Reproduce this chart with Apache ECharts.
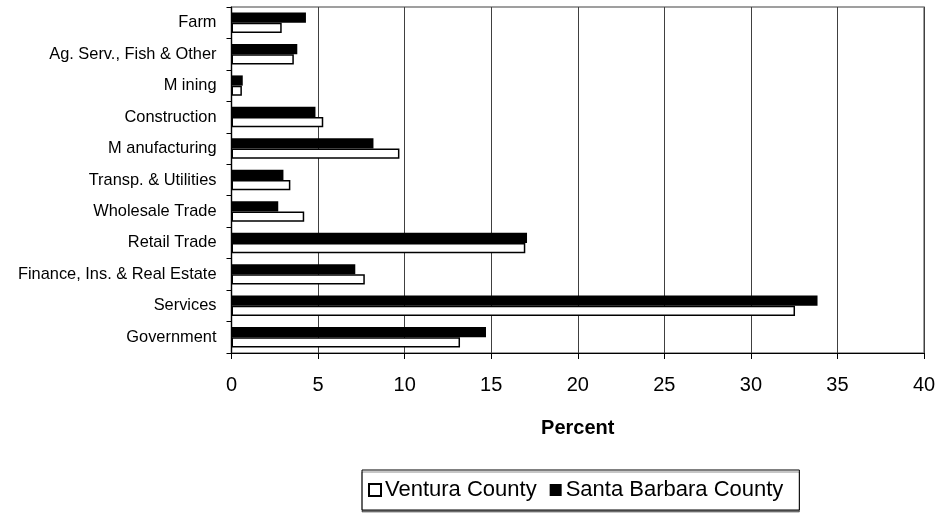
<!DOCTYPE html>
<html>
<head>
<meta charset="utf-8">
<script src="https://cdn.jsdelivr.net/npm/echarts@6/dist/echarts.min.js"></script>
<style>
  html, body { margin: 0; padding: 0; background: #fff; }
  #chart { width: 948px; height: 514px; }
</style>
</head>
<body>
<div id="chart"></div>
<script>
// Employment share by industry, two counties
const categories = [
  'Farm', 'Ag. Serv., Fish & Other', 'M ining', 'Construction', 'M anufacturing',
  'Transp. & Utilities', 'Wholesale Trade', 'Retail Trade',
  'Finance, Ins. & Real Estate', 'Services', 'Government'
];
const ventura = [2.9, 3.6, 0.6, 5.3, 9.7, 3.4, 4.2, 16.97, 7.7, 32.55, 13.2];
const santaBarbara = [4.3, 3.8, 0.65, 4.85, 8.2, 3.0, 2.7, 17.07, 7.15, 33.85, 14.7];
const xTicks = { min: 0, max: 40, interval: 5 };

const chart = echarts.init(document.getElementById('chart'), null, { renderer: 'canvas' });
const font = 'Liberation Sans, Arial, sans-serif';

chart.setOption({
  animation: false,
  backgroundColor: '#fff',
  grid: {
    left: 231.5, right: 24, top: 7, bottom: 161,
    show: true, borderColor: '#808080', borderWidth: 1.5, backgroundColor: 'transparent'
  },
  legend: {
    data: ['Ventura County', 'Santa Barbara County'],
    icon: 'rect',
    left: 362, top: 470,
    itemWidth: 12, itemHeight: 12, itemGap: 13,
    padding: [9, 16, 9, 6],
    borderColor: '#000', borderWidth: 1,
    backgroundColor: '#fff',
    shadowColor: 'rgba(0,0,0,0.45)', shadowOffsetX: 0, shadowOffsetY: 2, shadowBlur: 0,
    textStyle: { fontFamily: font, fontSize: 22, color: '#000', padding: [0, 0, 0, -1] }
  },
  xAxis: {
    type: 'value',
    min: xTicks.min, max: xTicks.max, interval: xTicks.interval,
    name: 'Percent', nameLocation: 'middle', nameGap: 65,
    nameTextStyle: { fontFamily: font, fontSize: 20, fontWeight: 'bold', color: '#000' },
    axisLine: { show: true, lineStyle: { color: '#000', width: 1.2 } },
    axisTick: { show: true, length: 6, lineStyle: { color: '#000' } },
    axisLabel: { fontFamily: font, fontSize: 20, color: '#000', margin: 22 },
    splitLine: { show: true, lineStyle: { color: '#404040', width: 1 } }
  },
  yAxis: {
    type: 'category',
    data: categories,
    inverse: true,
    axisLine: { show: true, lineStyle: { color: '#000', width: 1.2 } },
    axisTick: { show: true, length: 5, lineStyle: { color: '#000' } },
    axisLabel: { fontFamily: font, fontSize: 16.4, color: '#000', margin: 15 },
    splitLine: { show: false }
  },
  series: [
    {
      name: 'Santa Barbara County', type: 'bar', data: santaBarbara,
      barGap: '0%', barCategoryGap: '35%',
      itemStyle: { color: '#000', borderColor: '#000', borderWidth: 0 }
    },
    {
      name: 'Ventura County', type: 'bar', data: ventura,
      barGap: '0%', barCategoryGap: '35%',
      itemStyle: { color: '#fff', borderColor: '#000', borderWidth: 1.5 }
    }
  ]
});
</script>
</body>
</html>
